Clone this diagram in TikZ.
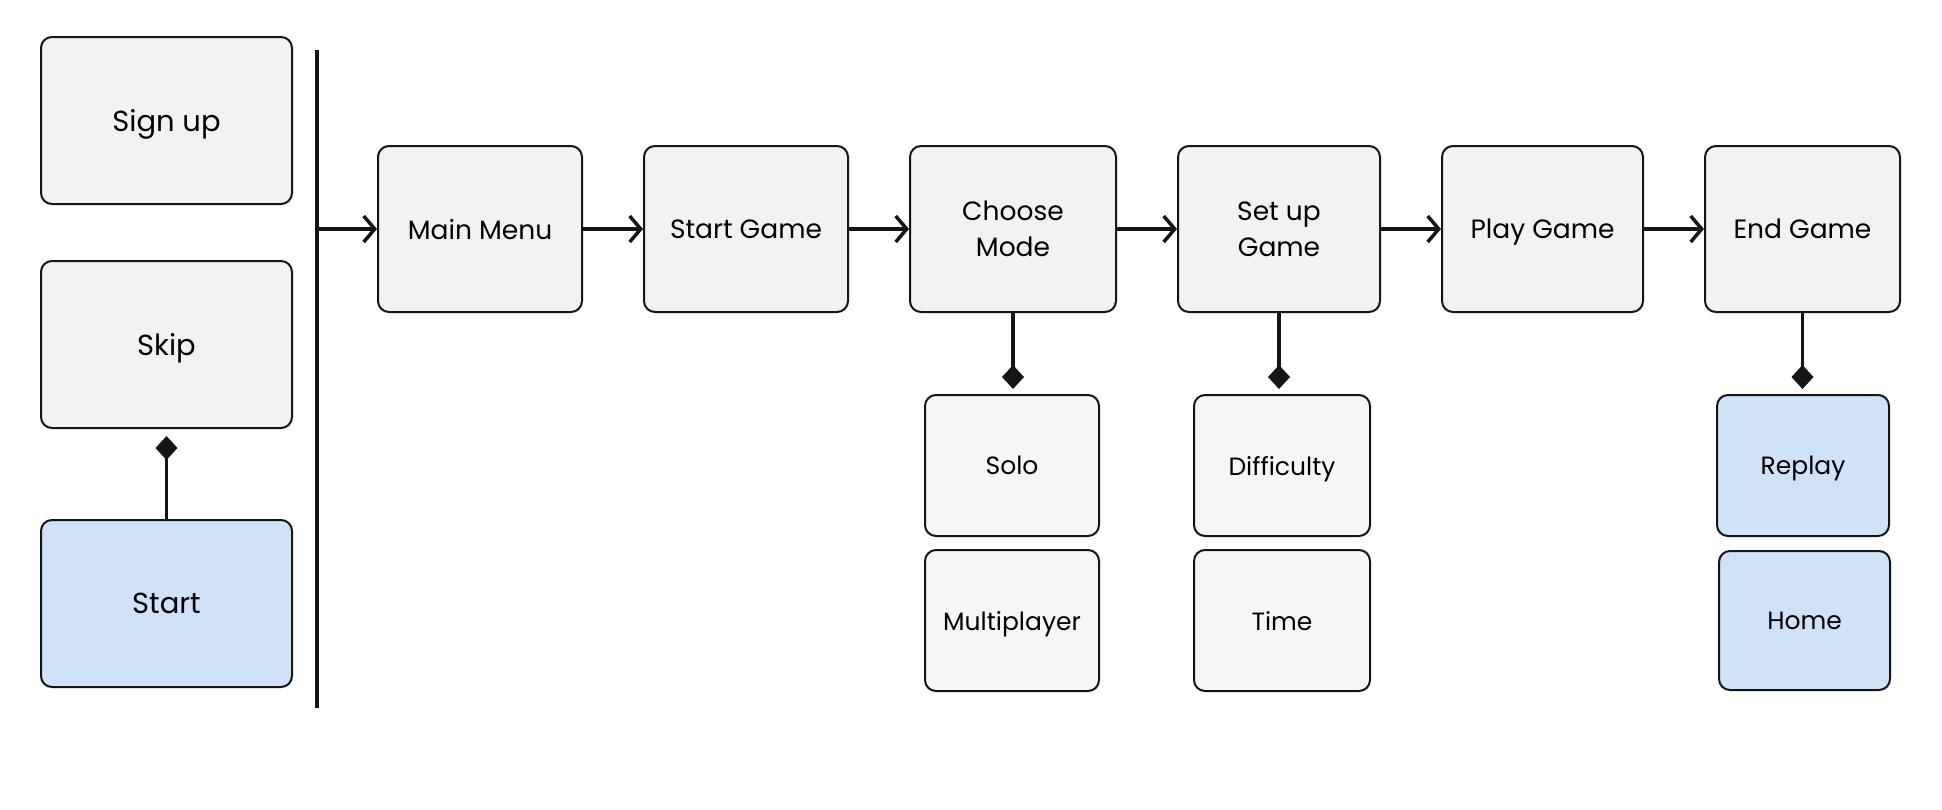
\documentclass[tikz,border=0pt]{standalone}
\usepackage{fontspec}
\setmainfont{Poppins}
\usetikzlibrary{arrows.meta}
\definecolor{boxgray}{HTML}{F2F2F2}
\definecolor{subgray}{HTML}{F6F6F6}
\definecolor{boxblue}{HTML}{CFE2F8}
\definecolor{edge}{HTML}{151515}
\tikzset{
  box/.style={draw=edge, line width=2pt, rounded corners=11pt, fill=boxgray, align=center, inner sep=0pt, font=\fontsize{26.5}{36}\selectfont},
  oneline/.style={text depth=0pt},
  bigbox/.style={box, oneline, minimum width=251pt, minimum height=167pt, font=\fontsize{29}{35}\selectfont},
  mainbox/.style={box, minimum height=166pt},
  subbox/.style={box, oneline, fill=subgray, minimum width=174pt, minimum height=141pt, font=\fontsize{25}{30}\selectfont},
  blue/.style={fill=boxblue},
  flow/.style={line width=3.5pt, edge, -{Straight Barb[length=11pt,width=26pt]}},
  has/.style={line width=3.5pt, edge, -{Diamond[length=24pt,width=22pt]}},
}
\begin{document}
\begin{tikzpicture}[x=1pt,y=-1pt]
\useasboundingbox[fill=white] (0,0) rectangle (1942,809);
\node[bigbox] (signup) at (166.5,120.5) {Sign up};
\node[bigbox] (skip) at (166.5,344.5) {Skip};
\node[bigbox, blue] (start) at (166.5,603.5) {Start};
\coordinate (bartop) at (317,50);
\coordinate (barbot) at (317,708);
\coordinate (barmid) at (317,229);
\draw[line width=4pt, edge] (bartop) -- (barbot);
\node[mainbox, oneline, minimum width=204pt] (mainmenu) at (480,229) {Main Menu};
\node[mainbox, oneline, minimum width=204pt] (startgame) at (746,229) {Start Game};
\node[mainbox, minimum width=206pt] (choose) at (1013,229) {Choose\\Mode};
\node[mainbox, minimum width=202pt] (setup) at (1279,229) {Set up\\Game};
\node[mainbox, oneline, minimum width=201pt] (play) at (1542.5,229) {Play Game};
\node[mainbox, oneline, minimum width=195pt] (endgame) at (1802.5,229) {End Game};
\node[subbox] (solo) at (1012,465.5) {Solo};
\node[subbox] (multi) at (1012,620.5) {Multiplayer};
\node[subbox, minimum width=176pt] (diff) at (1282,465.5) {Difficulty};
\node[subbox, minimum width=176pt] (time) at (1282,620.5) {Time};
\node[subbox, blue, minimum width=172pt] (replay) at (1803,465.5) {Replay};
\node[subbox, blue, minimum width=171pt, minimum height=139pt] (home) at (1804.5,620.5) {Home};
\draw[flow] (barmid) -- (mainmenu.west);
\draw[flow] (mainmenu) -- (startgame);
\draw[flow] (startgame) -- (choose);
\draw[flow] (choose) -- (setup);
\draw[flow] (setup) -- (play);
\draw[flow] (play) -- (endgame);
\draw[has, shorten >=5pt] (choose.south) -- (choose.south |- solo.north);
\draw[has, shorten >=5pt] (setup.south) -- (setup.south |- diff.north);
\draw[has, shorten >=5pt] (endgame.south) -- (endgame.south |- replay.north);
\draw[has, shorten >=7pt] (start.north) -- (skip.south);
\end{tikzpicture}
\end{document}
